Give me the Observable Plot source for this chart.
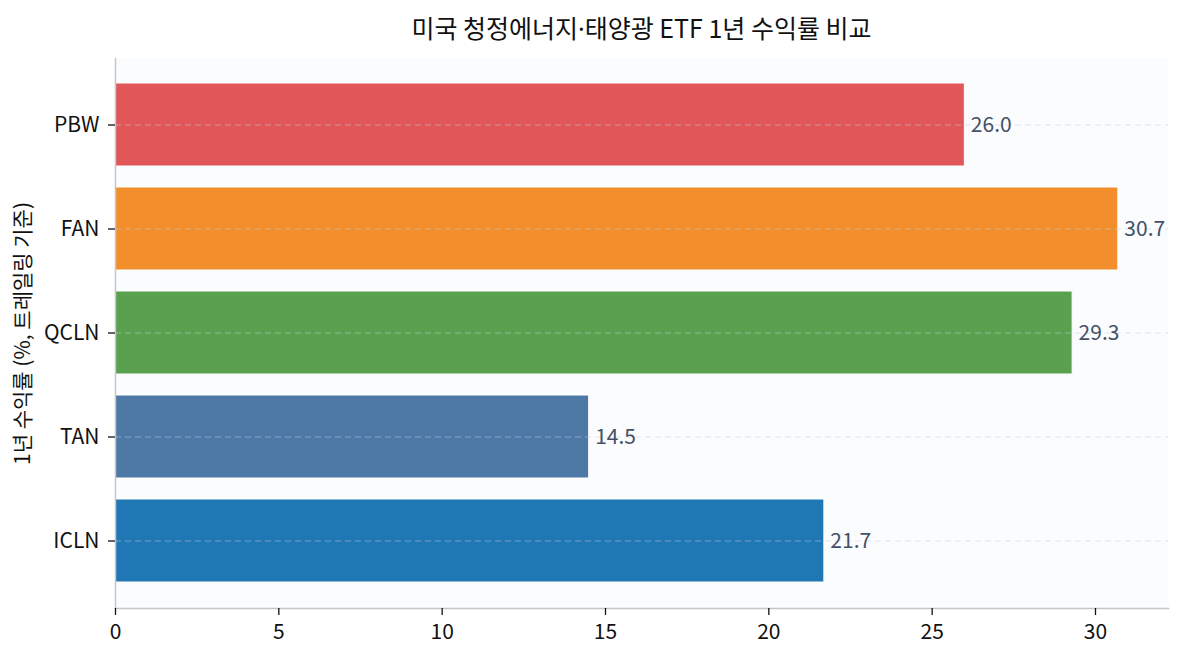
<!DOCTYPE html>
<html>
<head>
<meta charset="utf-8">
<script src="https://cdn.jsdelivr.net/npm/d3@7"></script>
<script src="https://cdn.jsdelivr.net/npm/@observablehq/plot@0.6"></script>
<style>
  body { margin: 0; background: #ffffff; font-family: "Noto Sans CJK KR", "Noto Sans", sans-serif; }
  #title { height: 44px; line-height: 54px; padding-left: 115px; padding-right: 16px; text-align: center; font-size: 25px; color: #111111; box-sizing: border-box; width: 1184px; white-space: nowrap; }
  #title .dot { font-family: "Noto Sans", sans-serif; }
</style>
</head>
<body>
<div id="title">미국 청정에너지<span class="dot">·</span>태양광 ETF 1년 수익률 비교</div>
<div id="chart"></div>
<script>
const tickers = ["PBW", "FAN", "QCLN", "TAN", "ICLN"];
const returns = [26.0, 30.7, 29.3, 14.5, 21.7];
const colors = ["#e15759", "#f28e2b", "#59a14f", "#4e79a7", "#1f77b4"];
const xTicks = [0, 5, 10, 15, 20, 25, 30];

const data = tickers.map((t, i) => ({ticker: t, value: returns[i], color: colors[i]}));

const chart = Plot.plot({
  width: 1184,
  height: 616,
  marginTop: 14,
  marginBottom: 52,
  marginLeft: 115,
  marginRight: 16,
  style: {fontFamily: "'Noto Sans CJK KR', 'Noto Sans', sans-serif", fontSize: "21px", color: "#111111", background: "transparent"},
  x: {domain: [0, 32.235], ticks: xTicks, label: null},
  y: {domain: tickers, paddingInner: 0.2, paddingOuter: 0.24, label: null},
  marks: [
    Plot.frame({fill: "#fafcfe", stroke: null}),
    Plot.barX(data, {x: "value", y: "ticker", fill: "color", stroke: "#ffffff", strokeWidth: 1}),
    Plot.gridY({stroke: "#c9d2de", strokeOpacity: 0.5, strokeDasharray: "6,4", strokeWidth: 1.2}),
    Plot.text(data, {x: "value", y: "ticker", text: d => d.value.toFixed(1), dx: 6, textAnchor: "start", fill: "#445066", fontSize: 21}),
    Plot.frame({anchor: "left", stroke: "#c6c6c6", strokeWidth: 1.5}),
    Plot.frame({anchor: "bottom", stroke: "#c6c6c6", strokeWidth: 1.5}),
    Plot.axisX({ticks: xTicks, tickSize: 7, tickPadding: 9, strokeWidth: 1.3, fontSize: 21, label: null}),
    Plot.axisY({tickSize: 7, tickPadding: 9, strokeWidth: 1.3, fontSize: 21, label: "1년 수익률 (%, 트레일링 기준)", labelAnchor: "center", labelArrow: "none", labelOffset: 100})
  ]
});
document.getElementById("chart").appendChild(chart);
</script>
</body>
</html>
